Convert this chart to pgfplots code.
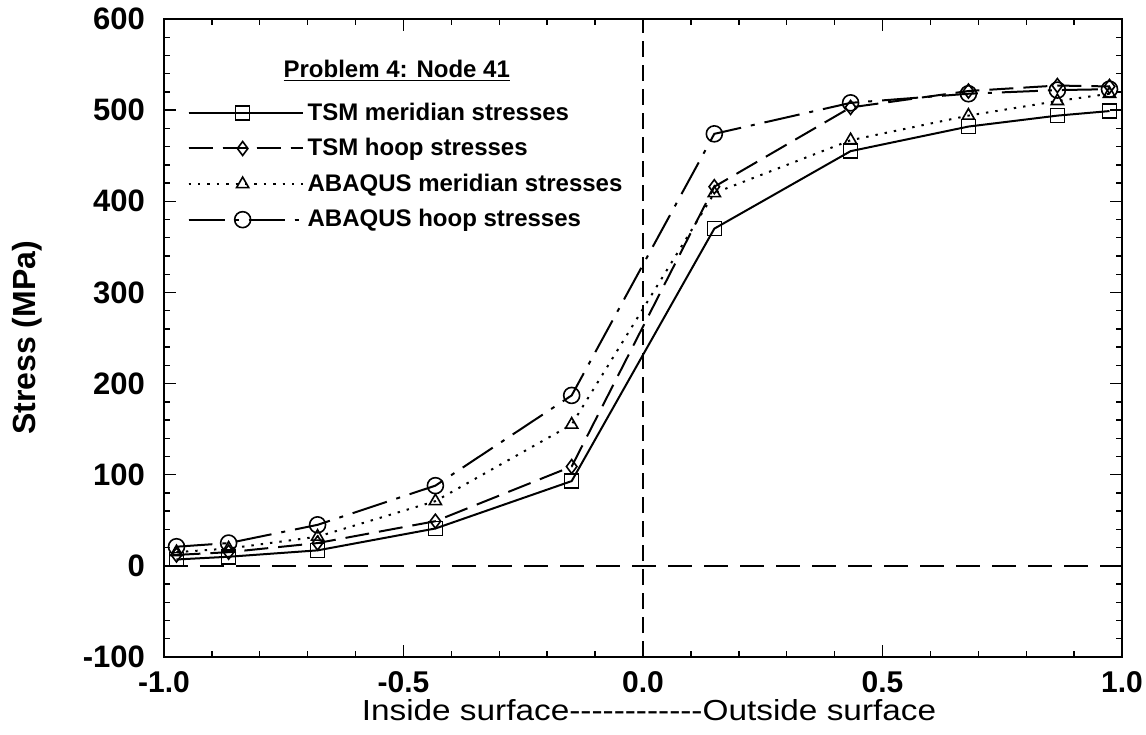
\documentclass[border=0pt]{standalone}
\usepackage{pgfplots}
\pgfplotsset{compat=1.18}
\usepackage{fontspec}
\setmainfont{Liberation Sans}

% Gauss points through the thickness
\pgfplotstableread{
x        tsmm  tsmh  abm  abh
-0.9739  7     12    15   21
-0.8651  10    15    19   25
-0.6794  17    25    32   45
-0.4334  41    49    71   88
-0.1489  93    109   155  187
0.1489   370   416   409  474
0.4334   455   503   467  508
0.6794   482   521   494  518
0.8651   494   527   510  522
0.9739   499   526   518  523
}\stress

\begin{document}
\begin{tikzpicture}
\begin{axis}[
  scale only axis, width=479pt, height=319pt,
  xmin=-1, xmax=1, ymin=-100, ymax=600,
  xtick={-1,-0.5,0,0.5,1}, xticklabels={-1.0,-0.5,0.0,0.5,1.0},
  ytick={-100,0,100,200,300,400,500,600},
  yticklabels={-100,0,100,200,300,400,500,600},
  minor x tick num=4, minor y tick num=4,
  tick align=inside, major tick length=6pt, minor tick length=3pt,
  axis line style={line width=1.3pt},
  tick style={line width=0.7pt, black},
  ticklabel style={font=\fontsize{15.5}{18}\selectfont\bfseries},
  xticklabel style={yshift=-3.5pt, font=\fontsize{15}{17}\selectfont\bfseries},
  yticklabel style={xshift=-6pt},
  xlabel={\scalebox{1.15}[1]{Inside surface-{}-{}-{}-{}-{}-{}-{}-{}-{}-{}-{}-{}Outside surface}},
  xlabel style={font=\fontsize{14.5}{16}\selectfont, at={(axis description cs:0.5,0)}, anchor=base, yshift=-31.5pt, xshift=3pt},
  ylabel={Stress (MPa)},
  ylabel style={font=\fontsize{16}{18}\selectfont\bfseries, at={(axis description cs:0,0.5)}, anchor=center, yshift=68.5pt},
  legend cell align=left,
  legend style={at={(rel axis cs:0.018,0.882)}, anchor=north west, draw=none, fill=none,
    font=\fontsize{12}{14}\selectfont\bfseries, row sep=3.6pt},
  legend image code/.code={\draw[mark repeat=2,mark phase=2] plot coordinates {(0pt,0pt)(27pt,0pt)(54pt,0pt)}; \path (0pt,0pt) -- (57pt,0pt);},
  every axis plot/.append style={line width=1pt, black, mark size=3.5pt, mark options={solid, line width=0.8pt, fill=white}},
]
\addplot[line width=0.9pt, dash pattern=on 12pt off 6pt, forget plot] coordinates {(-1,0) (1,0)};
\addplot[line width=0.8pt, dash pattern=on 8pt off 4pt, forget plot] coordinates {(0,-100) (0,600)};
\addplot[mark=square] table[x=x, y=tsmm] {\stress};
\addlegendentry{TSM meridian stresses}
\addplot[mark=diamond, dash pattern=on 12pt off 5pt] table[x=x, y=tsmh] {\stress};
\addlegendentry{TSM hoop stresses}
\addplot[mark=triangle, dash pattern=on 1.2pt off 3.5pt] table[x=x, y=abm] {\stress};
\addlegendentry{ABAQUS meridian stresses}
\addplot[mark=o, mark size=4pt, dash pattern=on 18pt off 5pt on 2pt off 5pt] table[x=x, y=abh] {\stress};
\addlegendentry{ABAQUS hoop stresses}
\node[font=\fontsize{12}{14}\selectfont\bfseries, anchor=base] at (rel axis cs:0.243,0.909) {\underline{Problem 4: Node 41}};
\coordinate (SW) at (rel axis cs:0,0);
\end{axis}
\pgfresetboundingbox
\path (SW) ++(-82pt,-38.5pt) rectangle ++(573pt,367pt);
\end{tikzpicture}
\end{document}
